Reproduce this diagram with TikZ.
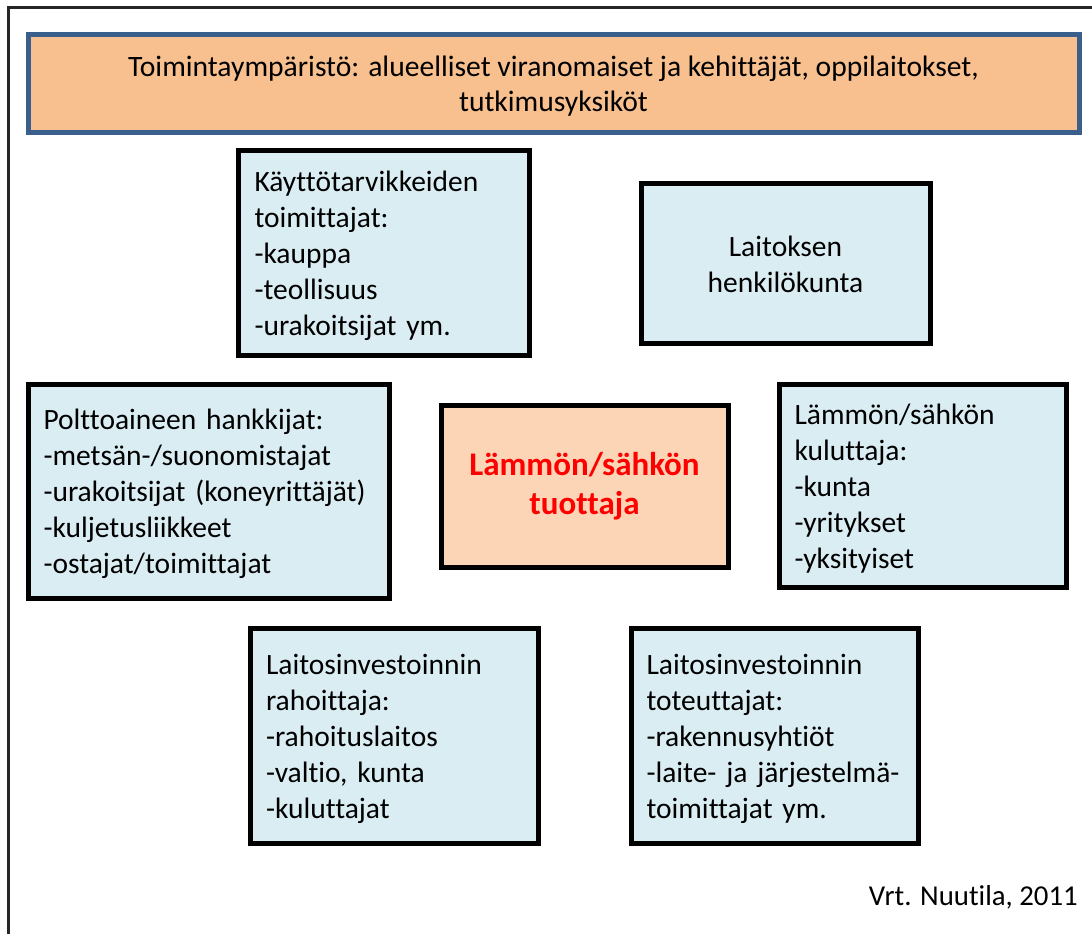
\documentclass[tikz,border=0pt]{standalone}
\usepackage{fontspec}
\setmainfont{Carlito}[Ligatures={NoCommon}]
\definecolor{envfill}{HTML}{F8C08F}
\definecolor{envdraw}{HTML}{3B5F8C}
\definecolor{actorfill}{HTML}{DAEDF3}
\definecolor{corefill}{HTML}{FBD5B6}
\definecolor{corered}{HTML}{FF0000}
\newcommand{\topstrut}[1]{\rule{0pt}{#1}}
\begin{document}
\begin{tikzpicture}[x=1pt,y=-1pt,
  actor/.style={draw=black, line width=5pt, fill=actorfill, rectangle,
    inner xsep=14pt, inner ysep=0pt, align=left, text=black,
    font=\fontsize{29.5}{36}\selectfont},
  envbox/.style={draw=envdraw, line width=5pt, fill=envfill, rectangle,
    align=center, font=\fontsize{29.6}{35}\selectfont},
  corebox/.style={draw=black, line width=5pt, fill=corefill, rectangle,
    align=center, text=corered, font=\fontsize{33}{39}\selectfont\bfseries}]
\useasboundingbox (0,0) rectangle (1092,934);
% page frame (top and left edges)
\draw[line width=3pt, black!85] (8,934) -- (8,8) -- (1092,8);

\node[envbox, minimum width=1051pt, minimum height=97pt] (env) at (553.5,83.5)
  {\topstrut{26pt}Toimintaympäristö: alueelliset viranomaiset ja kehittäjät, oppilaitokset,\\tutkimusyksiköt};

\node[actor, minimum width=291pt, minimum height=205pt, text width=258pt] (supply) at (383.5,252.5)
  {\topstrut{27pt}Käyttötarvikkeiden\\toimittajat:\\-kauppa\\-teollisuus\\-urakoitsijat ym.};

\node[actor, minimum width=289pt, minimum height=160pt, align=center, text width=258pt] (staff) at (785.5,263)
  {\topstrut{24pt}Laitoksen\\henkilökunta};

\node[actor, minimum width=361pt, minimum height=214pt, text width=330pt] (fuel) at (208.5,491)
  {\topstrut{27pt}Polttoaineen hankkijat:\\-metsän-/suonomistajat\\-urakoitsijat (koneyrittäjät)\\-kuljetusliikkeet\\-ostajat/toimittajat};

\node[corebox, minimum width=287pt, minimum height=162pt] (core) at (584.5,486)
  {Lämmön/sähkön\\tuottaja};

\node[actor, minimum width=287pt, minimum height=203pt, text width=256pt] (consumer) at (922.5,485.5)
  {\topstrut{27pt}Lämmön/sähkön\\kuluttaja:\\-kunta\\-yritykset\\-yksityiset};

\node[actor, minimum width=288pt, minimum height=215pt, text width=256pt] (finance) at (394,735.5)
  {\topstrut{27pt}Laitosinvestoinnin\\rahoittaja:\\-rahoituslaitos\\-valtio, kunta\\-kuluttajat};

\node[actor, minimum width=287pt, minimum height=215pt, text width=256pt] (build) at (774.5,735.5)
  {\topstrut{27pt}Laitosinvestoinnin\\toteuttajat:\\-rakennusyhtiöt\\-laite- ja järjestelmä-\\toimittajat ym.};

\node[anchor=east, inner sep=0pt, font=\fontsize{28.8}{32}\selectfont] (source) at (1078,897)
  {Vrt. Nuutila, 2011};
\end{tikzpicture}
\end{document}
